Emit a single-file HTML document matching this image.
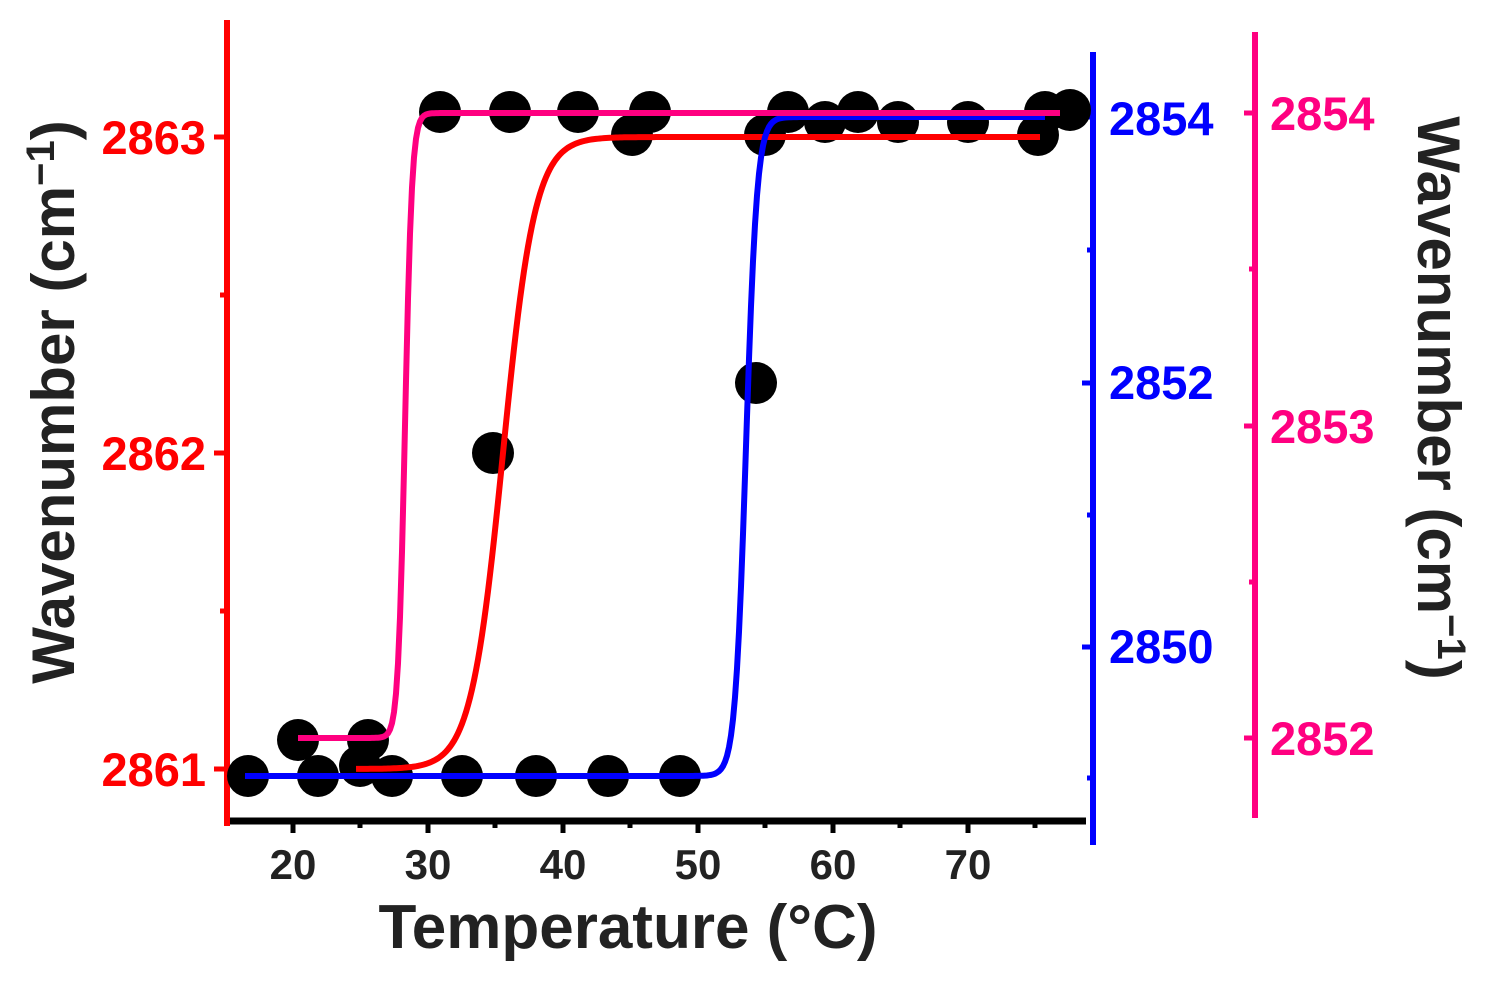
<!DOCTYPE html>
<html><head><meta charset="utf-8"><style>
html,body{margin:0;padding:0;background:#fff;}
svg{display:block;font-family:"Liberation Sans",Arial,sans-serif;font-weight:bold;}
</style></head><body>
<svg id="s" width="1510" height="1008" viewBox="0 0 1510 1008" xmlns="http://www.w3.org/2000/svg">
<line x1="224" y1="821" x2="1086" y2="821" stroke="#000" stroke-width="7"/>
<g stroke="#000" stroke-width="5">
<line x1="293" y1="821" x2="293" y2="833"/><line x1="428" y1="821" x2="428" y2="833"/><line x1="563" y1="821" x2="563" y2="833"/><line x1="698" y1="821" x2="698" y2="833"/><line x1="833" y1="821" x2="833" y2="833"/><line x1="968" y1="821" x2="968" y2="833"/>
<line x1="360" y1="821" x2="360" y2="828"/><line x1="495" y1="821" x2="495" y2="828"/><line x1="630" y1="821" x2="630" y2="828"/><line x1="765" y1="821" x2="765" y2="828"/><line x1="900" y1="821" x2="900" y2="828"/><line x1="1035" y1="821" x2="1035" y2="828"/>
</g>
<g font-size="42" text-anchor="middle" fill="#222">
<text x="293" y="879">20</text><text x="428" y="879">30</text><text x="563" y="879">40</text><text x="698" y="879">50</text><text x="833" y="879">60</text><text x="968" y="879">70</text>
</g>
<text x="628" y="948" font-size="62" text-anchor="middle" fill="#222">Temperature (°C)</text>
<line x1="227" y1="20" x2="227" y2="826" stroke="#f00" stroke-width="6"/>
<g stroke="#f00" stroke-width="5">
<line x1="214" y1="137" x2="227" y2="137"/><line x1="214" y1="453" x2="227" y2="453"/><line x1="214" y1="769" x2="227" y2="769"/>
<line x1="220" y1="295" x2="227" y2="295"/><line x1="220" y1="611" x2="227" y2="611"/>
</g>
<g font-size="47" text-anchor="end" fill="#f00">
<text x="206" y="154">2863</text><text x="206" y="470">2862</text><text x="206" y="786">2861</text>
</g>
<text transform="translate(74,402) rotate(-90)" font-size="60" text-anchor="middle" fill="#222">Wavenumber (cm<tspan font-size="40" dy="-20">−1</tspan><tspan dy="20">)</tspan></text>
<line x1="1093" y1="52" x2="1093" y2="845" stroke="#00f" stroke-width="6"/>
<g stroke="#00f" stroke-width="5">
<line x1="1082" y1="117" x2="1093" y2="117"/><line x1="1082" y1="383" x2="1093" y2="383"/><line x1="1082" y1="647" x2="1093" y2="647"/>
<line x1="1087" y1="250" x2="1093" y2="250"/><line x1="1087" y1="515" x2="1093" y2="515"/><line x1="1087" y1="778" x2="1093" y2="778"/>
</g>
<g font-size="47" fill="#00f">
<text x="1109" y="135">2854</text><text x="1109" y="399">2852</text><text x="1109" y="663">2850</text>
</g>
<line x1="1255" y1="32" x2="1255" y2="818" stroke="#ff0080" stroke-width="6"/>
<g stroke="#ff0080" stroke-width="5">
<line x1="1244" y1="113" x2="1255" y2="113"/><line x1="1244" y1="426" x2="1255" y2="426"/><line x1="1244" y1="738" x2="1255" y2="738"/>
<line x1="1249" y1="269" x2="1255" y2="269"/><line x1="1249" y1="582" x2="1255" y2="582"/>
</g>
<g font-size="47" fill="#ff0080">
<text x="1270" y="130">2854</text><text x="1270" y="443">2853</text><text x="1270" y="755">2852</text>
</g>
<text transform="translate(1418,398) rotate(90)" font-size="60" text-anchor="middle" fill="#222">Wavenumber (cm<tspan font-size="40" dy="-20">−1</tspan><tspan dy="20">)</tspan></text>
<g id="pts" fill="#000"></g>
<path id="red" fill="none" stroke="#f00" stroke-width="6"/>
<path id="blue" fill="none" stroke="#00f" stroke-width="6"/>
<path id="pink" fill="none" stroke="#ff0080" stroke-width="6"/>
</svg>
<script>
var pts=[[248,776],[298,740],[318,776],[360,766],[368,740],[392,776],[462,776],[536,776],[608,776],[680,776],[440,112],[510,112],[578,112],[632,135],[650,112],[756,383],[493,453],[765,135],[788,112],[825,122],[858,112],[898,122],[968,122],[1038,135],[1045,112],[1070,110]];
var g=document.getElementById('pts'),ns='http://www.w3.org/2000/svg';
pts.forEach(function(p){var c=document.createElementNS(ns,'circle');c.setAttribute('cx',p[0]);c.setAttribute('cy',p[1]);c.setAttribute('r',21);g.appendChild(c);});
function sig(x0,x1,y0,y1,xc,w){var d='';for(var x=x0;x<=x1;x+=2){var y=y0+(y1-y0)/(1+Math.exp(-(x-xc)/w));d+=(d?'L':'M')+x+','+y.toFixed(1);}return d;}
document.getElementById('red').setAttribute('d',sig(356,1040,769,137,503,16));
document.getElementById('blue').setAttribute('d',sig(245,1045,776,117,746,5.5));
document.getElementById('pink').setAttribute('d',sig(298,1060,738,113,405,3.5));
</script>
</body></html>
